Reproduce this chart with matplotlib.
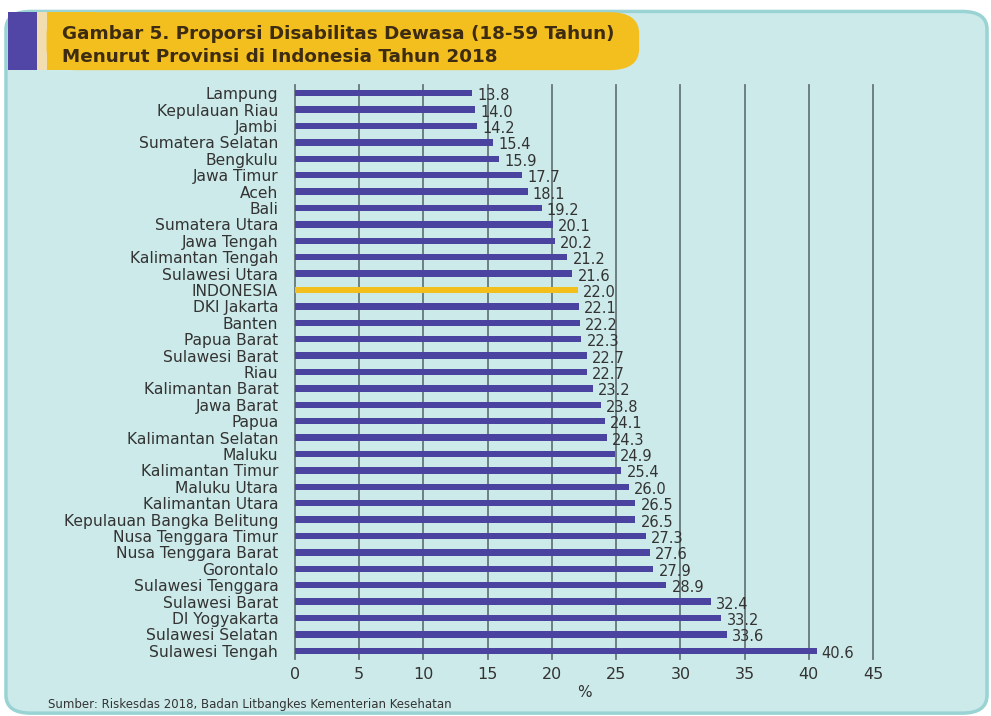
import matplotlib.pyplot as plt
from matplotlib.patches import FancyBboxPatch, Rectangle
import numpy as np

provinces = [
    "Lampung", "Kepulauan Riau", "Jambi", "Sumatera Selatan", "Bengkulu",
    "Jawa Timur", "Aceh", "Bali", "Sumatera Utara", "Jawa Tengah",
    "Kalimantan Tengah", "Sulawesi Utara", "INDONESIA", "DKI Jakarta",
    "Banten", "Papua Barat", "Sulawesi Barat", "Riau", "Kalimantan Barat",
    "Jawa Barat", "Papua", "Kalimantan Selatan", "Maluku", "Kalimantan Timur",
    "Maluku Utara", "Kalimantan Utara", "Kepulauan Bangka Belitung",
    "Nusa Tenggara Timur", "Nusa Tenggara Barat", "Gorontalo",
    "Sulawesi Tenggara", "Sulawesi Barat", "DI Yogyakarta",
    "Sulawesi Selatan", "Sulawesi Tengah",
]
values = [
    13.8, 14.0, 14.2, 15.4, 15.9, 17.7, 18.1, 19.2, 20.1, 20.2,
    21.2, 21.6, 22.0, 22.1, 22.2, 22.3, 22.7, 22.7, 23.2, 23.8,
    24.1, 24.3, 24.9, 25.4, 26.0, 26.5, 26.5, 27.3, 27.6, 27.9,
    28.9, 32.4, 33.2, 33.6, 40.6,
]
x_ticks = [0, 5, 10, 15, 20, 25, 30, 35, 40, 45]

bar_color = "#4a44a0"
nat_color = "#f3bf1f"
panel_color = "#cdeaea"
grid_color = "#66767a"
text_color = "#333333"

fig = plt.figure(figsize=(9.91, 7.16), dpi=100)
fig.patch.set_facecolor("white")

# background panel
panel = FancyBboxPatch((0.006, 0.004), 0.99, 0.98, boxstyle="round,pad=0,rounding_size=0.025",
                       transform=fig.transFigure, facecolor=panel_color,
                       edgecolor="#9ad3d3", linewidth=2.5, zorder=0)
fig.patches.append(panel)

# title block
fig.patches.append(Rectangle((0.008, 0.902), 0.029, 0.081, transform=fig.transFigure,
                             facecolor="#5146a6", edgecolor="none", zorder=1))
fig.patches.append(Rectangle((0.037, 0.902), 0.01, 0.081, transform=fig.transFigure,
                             facecolor="#f1ddb0", edgecolor="none", zorder=1))
fig.patches.append(FancyBboxPatch((0.047, 0.902), 0.598, 0.081,
                                  boxstyle="round,pad=0,rounding_size=0.03",
                                  transform=fig.transFigure, facecolor=nat_color,
                                  edgecolor="none", zorder=1))
fig.patches.append(Rectangle((0.047, 0.902), 0.05, 0.081, transform=fig.transFigure,
                             facecolor=nat_color, edgecolor="none", zorder=1))
fig.text(0.063, 0.953, "Gambar 5. Proporsi Disabilitas Dewasa (18-59 Tahun)",
         fontsize=13.2, fontweight="bold", color="#3d2b12", va="center", ha="left")
fig.text(0.063, 0.920, "Menurut Provinsi di Indonesia Tahun 2018",
         fontsize=13.2, fontweight="bold", color="#3d2b12", va="center", ha="left")

ax = fig.add_axes([0.2977, 0.0796, 0.5833, 0.8017])
ax.set_zorder(5)
ax.patch.set_visible(False)

y = np.arange(len(provinces))
colors = [nat_color if p == "INDONESIA" else bar_color for p in provinces]
ax.barh(y, values, height=0.4, color=colors, zorder=3)

for yi, v in zip(y, values):
    ax.text(v + 0.4, yi + 0.15, f"{v:.1f}", va="center", ha="left",
            fontsize=10.5, color=text_color, zorder=4)

ax.set_xlim(0, 45)
ax.set_ylim(len(provinces) - 0.5, -0.5)
ax.set_yticks(y)
ax.set_yticklabels(provinces, fontsize=11.2, color=text_color)
ax.set_xticks(x_ticks)
ax.set_xticklabels([str(t) for t in x_ticks], fontsize=11.5, color=text_color)
ax.tick_params(axis="y", length=0, pad=12)
ax.tick_params(axis="x", length=0, pad=6)

for t in x_ticks:
    ax.axvline(t, color=grid_color, linewidth=1.3, zorder=1, clip_on=False)

for s in ax.spines.values():
    s.set_visible(False)

ax.set_xlabel("%", fontsize=11, color=text_color, labelpad=2)

fig.text(0.048, 0.016, "Sumber: Riskesdas 2018, Badan Litbangkes Kementerian Kesehatan",
         fontsize=8.5, color=text_color, ha="left", va="center")

fig.savefig("out.png", dpi=100, facecolor=fig.get_facecolor())
